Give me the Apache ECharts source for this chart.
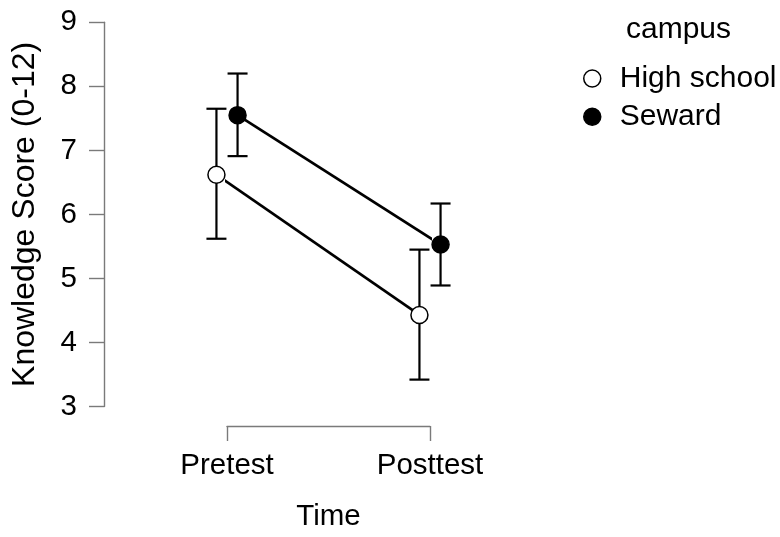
<!DOCTYPE html>
<html>
<head>
<meta charset="utf-8">
<script src="https://cdn.jsdelivr.net/npm/echarts@6/dist/echarts.min.js"></script>
<style>
html,body{margin:0;padding:0;background:#fff;}
#chart{width:780px;height:537px;}
</style>
</head>
<body>
<div id="chart"></div>
<script>
// ---- data ----
const categories = ['Pretest', 'Posttest'];
const groups = ['High school', 'Seward'];
const hsMean  = [6.62, 4.43];
const hsLower = [5.62, 3.42];
const hsUpper = [7.65, 5.45];
const swMean  = [7.55, 5.53];
const swLower = [6.91, 4.89];
const swUpper = [8.20, 6.17];
const yMin = 3, yMax = 9, yStep = 1;

// ---- build ----
const FONT = '"Liberation Sans", Arial, sans-serif';
const dodge = 0.052;
const pos = (i, d) => i + 1 + d;

function ptData(means, d) { return means.map((m, i) => [pos(i, d), m]); }
function ebData(lo, hi, d) { return lo.map((l, i) => [pos(i, d), l, hi[i]]); }

function errRender(params, api) {
  const x = api.value(0);
  const lo = api.coord([x, api.value(1)]);
  const hi = api.coord([x, api.value(2)]);
  const hw = 10;
  const st = { stroke: '#000', lineWidth: 2.2 };
  return {
    type: 'group',
    children: [
      { type: 'line', shape: { x1: lo[0], y1: lo[1], x2: hi[0], y2: hi[1] }, style: st },
      { type: 'line', shape: { x1: lo[0] - hw, y1: lo[1], x2: lo[0] + hw, y2: lo[1] }, style: st },
      { type: 'line', shape: { x1: hi[0] - hw, y1: hi[1], x2: hi[0] + hw, y2: hi[1] }, style: st }
    ]
  };
}

const chart = echarts.init(document.getElementById('chart'), null, { renderer: 'canvas' });
chart.setOption({
  backgroundColor: '#fff',
  animation: false,
  textStyle: { fontFamily: FONT },
  title: {
    text: 'campus', left: 621, top: 10,
    textStyle: { fontFamily: FONT, fontSize: 30, fontWeight: 'normal', color: '#000' }
  },
  legend: {
    orient: 'vertical', left: 583, top: 63.5, padding: 0,
    itemWidth: 17, itemHeight: 17, itemGap: 8.3, icon: 'circle',
    textStyle: { fontFamily: FONT, fontSize: 30, color: '#000', lineHeight: 30, padding: [0, 0, 0, 14] },
    data: [
      { name: groups[0], itemStyle: { color: '#fff', borderColor: '#000', borderWidth: 1.5 } },
      { name: groups[1], itemStyle: { color: '#000', borderColor: '#000', borderWidth: 1.5 } }
    ]
  },
  grid: { left: 227, right: 350, top: 22.3, bottom: 537 - 408.3, containLabel: false },
  xAxis: {
    type: 'value', min: 1, max: 2, interval: 1, offset: 19.5,
    axisLine: { show: true, lineStyle: { color: '#7a7a7a', width: 1.4 } },
    axisTick: { show: true, length: 15, inside: false, lineStyle: { color: '#7a7a7a', width: 1.4 } },
    splitLine: { show: false },
    axisLabel: {
      margin: 25, fontFamily: FONT, fontSize: 29.5, color: '#000',
      formatter: v => categories[Math.round(v) - 1] || ''
    },
    name: 'Time', nameLocation: 'middle', nameGap: 76,
    nameTextStyle: { fontFamily: FONT, fontSize: 29.5, color: '#000' }
  },
  yAxis: {
    type: 'value', min: yMin, max: yMax, interval: yStep, offset: 123,
    axisLine: { show: true, lineStyle: { color: '#7a7a7a', width: 1.4 } },
    axisTick: { show: true, length: 15, lineStyle: { color: '#7a7a7a', width: 1.4 } },
    splitLine: { show: false },
    axisLabel: { margin: 27, fontFamily: FONT, fontSize: 29.5, color: '#000' },
    name: 'Knowledge Score (0-12)', nameLocation: 'middle', nameGap: 63,
    nameTextStyle: { fontFamily: FONT, fontSize: 32, color: '#000' }
  },
  series: [
    { type: 'custom', name: 'eb-hs', renderItem: errRender, data: ebData(hsLower, hsUpper, -dodge), clip: false, z: 1, silent: true },
    { type: 'custom', name: 'eb-sw', renderItem: errRender, data: ebData(swLower, swUpper, dodge), clip: false, z: 1, silent: true },
    {
      type: 'line', name: groups[0], data: ptData(hsMean, -dodge), clip: false, z: 3,
      symbol: 'circle', symbolSize: 17,
      lineStyle: { color: '#000', width: 2.7 },
      itemStyle: { color: '#fff', borderColor: '#000', borderWidth: 1.5 }
    },
    {
      type: 'line', name: groups[1], data: ptData(swMean, dodge), clip: false, z: 3,
      symbol: 'circle', symbolSize: 17,
      lineStyle: { color: '#000', width: 2.7 },
      itemStyle: { color: '#000', borderColor: '#000', borderWidth: 1.5 }
    }
  ]
});
</script>
</body>
</html>
